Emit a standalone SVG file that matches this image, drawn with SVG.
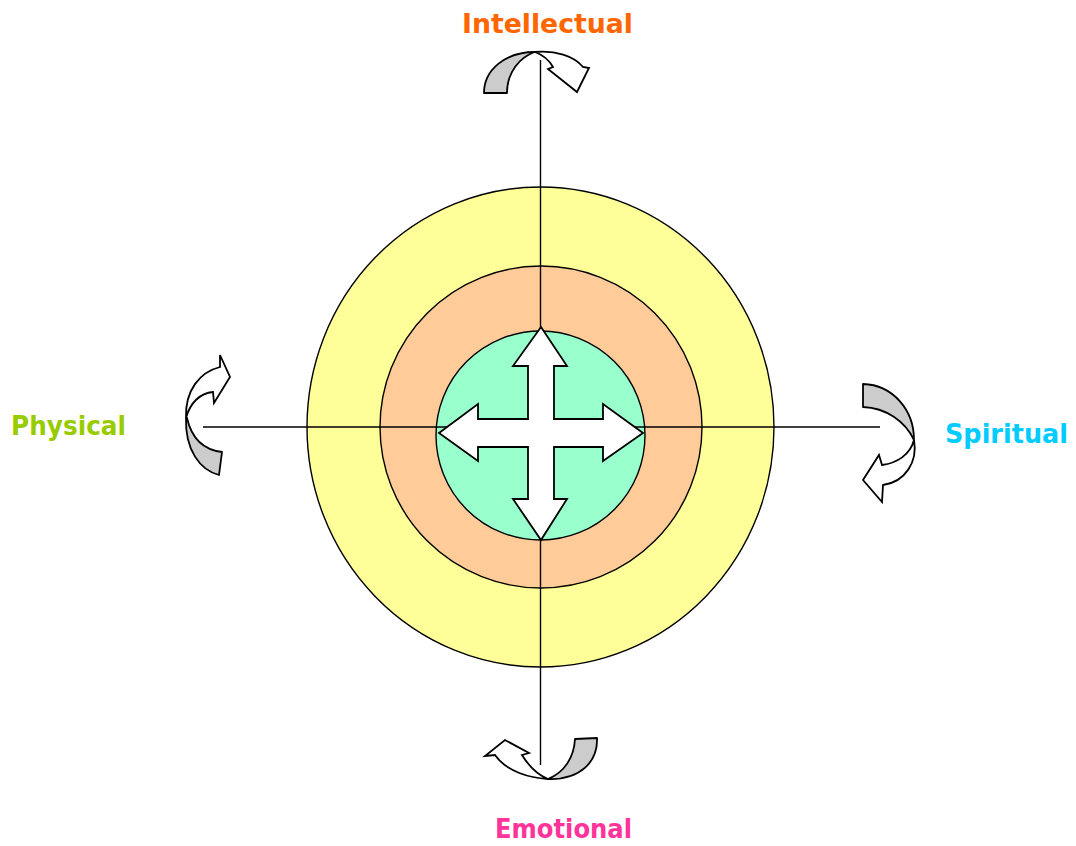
<svg xmlns="http://www.w3.org/2000/svg" width="1076" height="846" viewBox="0 0 1076 846">
<style>
.ring{stroke:#000;stroke-width:1.4}
.ax{stroke:#000;stroke-width:1.4;fill:none}
.g{fill:#CCCCCC;stroke:#000;stroke-width:1.8;stroke-linejoin:round}
.w{fill:#FFFFFF;stroke:#000;stroke-width:1.8;stroke-linejoin:miter}
.lbl{font-family:"DejaVu Sans","Liberation Sans",sans-serif;font-weight:bold;font-size:27px}
</style>
<rect width="1076" height="846" fill="#FFFFFF"/>
<g id="outer-ring"><ellipse class="ring" cx="540.5" cy="427" rx="233.5" ry="240" fill="#FFFF99"/></g>
<g id="middle-ring"><circle class="ring" cx="541" cy="427" r="161" fill="#FFCC99"/></g>
<g id="inner-ring"><circle class="ring" cx="540.5" cy="435.5" r="104.5" fill="#99FFCC"/></g>
<g id="connectors">
<line class="ax" x1="540.5" y1="60" x2="540.5" y2="765"/>
<line class="ax" x1="203" y1="427" x2="880" y2="427"/>
</g>
<g id="cross-arrow">
<polygon class="w" points="541,327 567,366 554,366 554,419 603,419 603,404 643,433 603,461 603,447 554,447 554,499 567,499 541,540 513,499 528,499 528,447 478,447 478,461 439,433 478,404 478,419 528,419 528,366 513,366"/>
</g>
<g id="top-curved-arrow">
<path class="g" d="M484,93 C484,70 505,52 535,52 C520,57 507,72 507,93 Z"/>
<path class="w" d="M535,52 C555,50 574,56 583,67 L589,68 L577,92 L548,69 L553,67 C549,60 543,55 535,52 Z"/>
</g>
<g id="left-curved-arrow">
<path class="g" d="M186,418 C185,450 200,470 219,475 L222,452 C205,450 192,440 187,418 Z"/>
<path class="w" d="M186,418 C185,390 200,372 220,367 L220,355 L230,377 L214,403 L213,392 C200,393 190,403 186,418 Z"/>
</g>
<g id="right-curved-arrow">
<path class="g" d="M863,384 C893,385 914,410 914,440 C905,421 886,408 863,407 Z"/>
<path class="w" d="M914,440 C918,462 905,482 883,485 L882,502 L863,480 L879,455 L882,465 C897,463 910,455 914,440 Z"/>
</g>
<g id="bottom-curved-arrow">
<path class="g" d="M575,739 L597,738 C598,762 580,780 548,779 C565,772 574,757 575,739 Z"/>
<path class="w" d="M548,779 C530,778 507,772 495,755 L485,756 L505,740 L529,753 L522,755 C530,768 538,775 548,779 Z"/>
</g>
<g id="label-intellectual"><text class="lbl" x="462" y="33" textLength="171" lengthAdjust="spacingAndGlyphs" fill="#FF6600">Intellectual</text></g>
<g id="label-physical"><text class="lbl" x="11" y="435" textLength="115" lengthAdjust="spacingAndGlyphs" fill="#99CC00">Physical</text></g>
<g id="label-spiritual"><text class="lbl" x="945" y="443" textLength="123" lengthAdjust="spacingAndGlyphs" fill="#00CCFF">Spiritual</text></g>
<g id="label-emotional"><text class="lbl" x="495" y="838" textLength="137" lengthAdjust="spacingAndGlyphs" fill="#FF3399">Emotional</text></g>
</svg>
